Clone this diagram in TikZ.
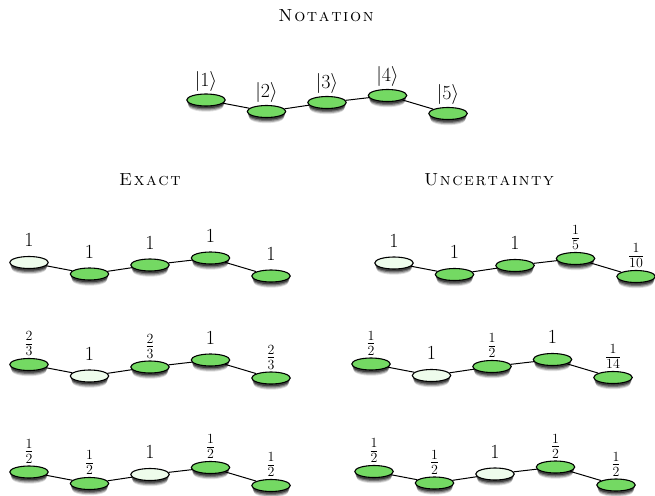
\RequirePackage{fix-cm}
\documentclass[tikz,border=0pt]{standalone}
\usetikzlibrary{shapes.geometric,shadows}
\definecolor{beadgreen}{RGB}{116,217,99}
\definecolor{beadpale}{RGB}{238,252,236}
\newcommand\lone{$\vphantom{\frac12}1$}
\newcommand\myfr[2]{$\frac{#1}{#2}$}
\newcommand\spaced[1]{\spacedB#1\relax}
\def\spacedB#1{#1\spacedA}
\def\spacedA#1{\ifx#1\relax\else\kern1.6pt#1\expandafter\spacedA\fi}
\tikzset{
  bead/.style={ellipse, draw=black, line width=1.1pt, minimum width=38.5pt,
    minimum height=12pt, inner sep=0pt, label distance=4pt,
    general shadow={shadow yshift=-7pt, shadow scale=0.9, fill=black, opacity=0.12},
    general shadow={shadow yshift=-5.5pt, shadow scale=0.93, fill=black, opacity=0.22},
    general shadow={shadow yshift=-4pt, shadow scale=0.95, fill=black, opacity=0.32},
    general shadow={shadow yshift=-2.5pt, shadow scale=0.97, fill=black, opacity=0.45}},
  gbead/.style={bead, fill=beadgreen},
  wbead/.style={bead, fill=beadpale},
  lab/.style={font=\fontsize{20}{24}\selectfont, inner sep=2pt},
  link/.style={draw=black, line width=1pt},
  title/.style={font=\fontsize{17.5}{20}\selectfont\scshape, anchor=base, inner sep=0pt}
}
\newcommand\chainrow[9]{%
  \foreach \k/\dy/\lab in {1/0/{#5},2/11.5/{#6},3/2.5/{#7},4/-4.5/{#8},5/13.5/{#9}}{%
    \ifnum\k=#4\relax\def\st{wbead}\else\def\st{gbead}\fi
    \node[\st, label={[lab]above:\lab}] (#1\k) at ({#2+60.5*(\k-1)},{#3+\dy}) {};
  }%
  \draw[link] (#11) -- (#12) -- (#13) -- (#14) -- (#15);
}
\begin{document}
\begin{tikzpicture}[x=1pt,y=-1pt]
\useasboundingbox (0,0) rectangle (655,495);
\node[title] (tnot) at (326,22) {\spaced{Notation}};
\node[title] (texa) at (150,185) {\spaced{Exact}};
\node[title] (tunc) at (489,185) {\spaced{Uncertainty}};
\chainrow{n}{206}{100}{0}{$|1\rangle$}{$|2\rangle$}{$|3\rangle$}{$|4\rangle$}{$|5\rangle$}
\chainrow{ea}{29}{262.5}{1}{\lone}{\lone}{\lone}{\lone}{\lone}
\chainrow{eb}{29}{364.5}{2}{\myfr23}{\lone}{\myfr23}{\lone}{\myfr23}
\chainrow{ec}{29}{472}{3}{\myfr12}{\myfr12}{\lone}{\myfr12}{\myfr12}
\chainrow{ua}{394}{263}{1}{\lone}{\lone}{\lone}{\myfr15}{\myfr1{10}}
\chainrow{ub}{371}{364}{2}{\myfr12}{\lone}{\myfr12}{\lone}{\myfr1{14}}
\chainrow{uc}{374}{471.5}{3}{\myfr12}{\myfr12}{\lone}{\myfr12}{\myfr12}
\end{tikzpicture}
\end{document}
